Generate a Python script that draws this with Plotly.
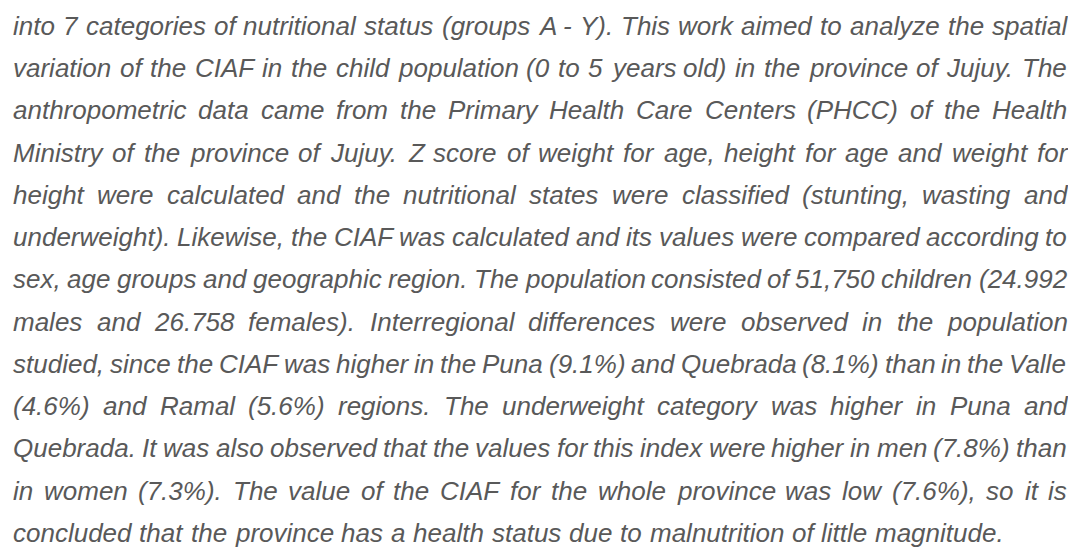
import plotly.graph_objects as go

# ---- data: the paragraph, one entry per printed line ----
lines = [
    "into 7 categories of nutritional status (groups A - Y). This work aimed to analyze the spatial",
    "variation of the CIAF in the child population (0 to 5 years old) in the province of Jujuy. The",
    "anthropometric data came from the Primary Health Care Centers (PHCC) of the Health",
    "Ministry of the province of Jujuy. Z score of weight for age, height for age and weight for",
    "height were calculated and the nutritional states were classified (stunting, wasting and",
    "underweight). Likewise, the CIAF was calculated and its values were compared according to",
    "sex, age groups and geographic region. The population consisted of 51,750 children (24.992",
    "males and 26.758 females). Interregional differences were observed in the population",
    "studied, since the CIAF was higher in the Puna (9.1%) and Quebrada (8.1%) than in the Valle",
    "(4.6%) and Ramal (5.6%) regions. The underweight category was higher in Puna and",
    "Quebrada. It was also observed that the values for this index were higher in men (7.8%) than",
    "in women (7.3%). The value of the CIAF for the whole province was low (7.6%), so it is",
    "concluded that the province has a health status due to malnutrition of little magnitude.",
]
line_right_edges = [1066] * 12 + [1003]

# ---- style ----
FONT_FAMILY = "Liberation Sans, Arial, sans-serif"
FS = 26
COLOR = "#595959"
PAGE_OFFSET = 8          # default <body> margin of the written html page
LEFT = 12
TOP_BASELINE = 35
LINE_STEP = 42.25

# Arial / Liberation Sans advance widths (1/1000 em)
W = {' ': 278, '!': 278, '"': 355, '#': 556, '$': 556, '%': 889, '&': 667, "'": 191,
     '(': 333, ')': 333, '*': 389, '+': 584, ',': 278, '-': 333, '.': 278, '/': 278,
     ':': 278, ';': 278, '?': 556,
     'A': 667, 'B': 667, 'C': 722, 'D': 722, 'E': 667, 'F': 611, 'G': 778, 'H': 722,
     'I': 278, 'J': 500, 'K': 667, 'L': 556, 'M': 833, 'N': 722, 'O': 778, 'P': 667,
     'Q': 778, 'R': 722, 'S': 667, 'T': 611, 'U': 722, 'V': 667, 'W': 944, 'X': 667,
     'Y': 667, 'Z': 611,
     'a': 556, 'b': 556, 'c': 500, 'd': 556, 'e': 556, 'f': 278, 'g': 556, 'h': 556,
     'i': 222, 'j': 222, 'k': 500, 'l': 222, 'm': 833, 'n': 556, 'o': 556, 'p': 556,
     'q': 556, 'r': 333, 's': 500, 't': 278, 'u': 556, 'v': 500, 'w': 722, 'x': 500,
     'y': 500, 'z': 500}
for d in "0123456789":
    W[d] = 556


def text_width(s):
    return sum(W.get(ch, 556) for ch in s) / 1000.0 * FS


fig = go.Figure()
fig.add_trace(go.Scatter(x=[0, 1076], y=[0, 555], mode="markers",
                         marker=dict(opacity=0), hoverinfo="skip", showlegend=False))

annotations = []
for i, (line, right) in enumerate(zip(lines, line_right_edges)):
    words = line.split(" ")
    widths = [text_width(w) for w in words]
    left = LEFT - PAGE_OFFSET
    right = right - PAGE_OFFSET
    gap = (right - left - sum(widths)) / (len(words) - 1)
    baseline = TOP_BASELINE + i * LINE_STEP - PAGE_OFFSET
    ymid = baseline - 0.3465 * FS
    x = left
    for w, wd in zip(words, widths):
        annotations.append(dict(
            x=x, y=ymid, xref="x", yref="y",
            text=w, showarrow=False,
            xanchor="left", yanchor="middle",
            borderpad=0,
            font=dict(family=FONT_FAMILY, size=FS, color=COLOR, style="italic"),
        ))
        x += wd + gap

fig.update_layout(
    width=1076, height=555,
    margin=dict(l=0, r=0, t=0, b=0),
    paper_bgcolor="white", plot_bgcolor="white",
    xaxis=dict(range=[0, 1076], visible=False, fixedrange=True),
    yaxis=dict(range=[555, 0], visible=False, fixedrange=True),
    annotations=annotations,
    showlegend=False,
)

fig.write_html("out.html", config={"displayModeBar": False})
